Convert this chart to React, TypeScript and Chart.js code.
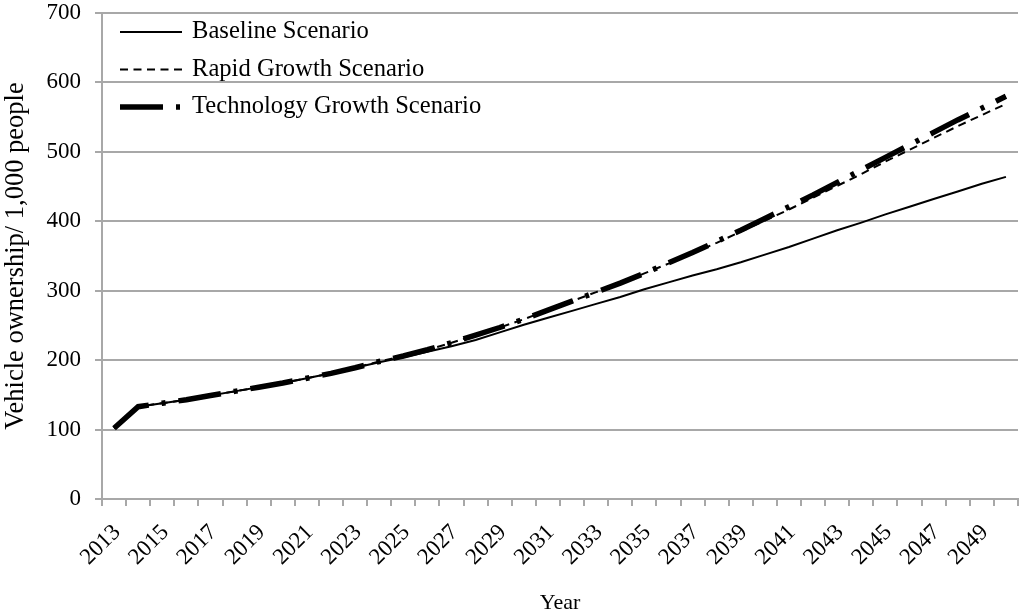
import React, { useEffect, useRef } from "react";
import { Chart, registerables } from "chart.js";

Chart.register(...registerables);

const years: string[] = [
  "2013", "2014", "2015", "2016", "2017", "2018", "2019", "2020", "2021", "2022",
  "2023", "2024", "2025", "2026", "2027", "2028", "2029", "2030", "2031", "2032",
  "2033", "2034", "2035", "2036", "2037", "2038", "2039", "2040", "2041", "2042",
  "2043", "2044", "2045", "2046", "2047", "2048", "2049", "2050",
];

const baseline: number[] = [
  102, 133, 138, 143, 149, 155, 161, 167, 174, 181,
  189, 197, 204, 212, 220, 229, 240, 251, 261, 271,
  281, 291, 302, 312, 322, 331, 341, 352, 363, 375,
  387, 398, 410, 421, 432, 443, 454, 464,
];

const rapidGrowth: number[] = [
  102, 133, 138, 143, 149, 155, 161, 167, 174, 181,
  189, 198, 206, 215, 225, 236, 247, 259, 272, 285,
  298, 311, 325, 339, 354, 369, 385, 401, 417, 434,
  451, 468, 486, 503, 520, 537, 553, 569,
];

const technologyGrowth: number[] = [
  102, 133, 138, 143, 149, 155, 161, 167, 174, 181,
  189, 198, 206, 215, 225, 236, 247, 259, 272, 285,
  298, 311, 325, 340, 355, 371, 387, 404, 421, 438,
  456, 474, 492, 510, 528, 546, 563, 580,
];

const seriesNames: string[] = [
  "Baseline Scenario",
  "Rapid Growth Scenario",
  "Technology Growth Scenario",
];

const yTitle = "Vehicle ownership/ 1,000 people";
const xTitle = "Year";

const FONT = "'Liberation Serif', 'Times New Roman', serif";
const GRID = "#a8a8a8";

const insideLegend = {
  id: "insideLegend",
  afterDraw(chart: any) {
    const ctx = chart.ctx;
    const area = chart.chartArea;
    const x0 = area.left + 18;
    const len = 62;
    const y0 = area.top + 19;
    const rowH = 37.5;
    chart.data.datasets.forEach((ds: any, i: number) => {
      const y = y0 + i * rowH;
      ctx.save();
      ctx.strokeStyle = ds.borderColor;
      ctx.lineWidth = ds.borderWidth;
      ctx.lineCap = "butt";
      ctx.setLineDash(ds.borderDash || []);
      ctx.beginPath();
      ctx.moveTo(x0, y);
      ctx.lineTo(x0 + len, y);
      ctx.stroke();
      ctx.setLineDash([]);
      ctx.fillStyle = "#000";
      ctx.font = `24.6px ${FONT}`;
      ctx.textBaseline = "middle";
      ctx.textAlign = "left";
      ctx.fillText(ds.label, x0 + len + 10, y);
      ctx.restore();
    });
  },
};

export default function App() {
  const canvasRef = useRef<HTMLCanvasElement | null>(null);

  useEffect(() => {
    if (!canvasRef.current) return;
    Chart.defaults.font.family = FONT;
    Chart.defaults.color = "#000";
    const chart = new Chart(canvasRef.current, {
      type: "line",
      data: {
        labels: years,
        datasets: [
          {
            label: seriesNames[0],
            data: baseline,
            borderColor: "#000",
            borderWidth: 2,
            pointRadius: 0,
            tension: 0,
            fill: false,
            order: 3,
          },
          {
            label: seriesNames[1],
            data: rapidGrowth,
            borderColor: "#000",
            borderWidth: 2,
            borderDash: [8, 5.5],
            pointRadius: 0,
            tension: 0,
            fill: false,
            order: 2,
          },
          {
            label: seriesNames[2],
            data: technologyGrowth,
            borderColor: "#000",
            borderWidth: 5.5,
            borderDash: [43, 13, 4, 13],
            pointRadius: 0,
            tension: 0,
            fill: false,
            order: 1,
          },
        ],
      },
      options: {
        animation: false,
        responsive: true,
        maintainAspectRatio: false,
        layout: { padding: { top: 0, right: 0, left: 0, bottom: 0 } },
        plugins: {
          legend: { display: false },
          tooltip: { enabled: false },
        },
        scales: {
          x: {
            type: "category",
            offset: true,
            grid: {
              display: true,
              drawOnChartArea: false,
              offset: true,
              tickLength: 7,
              color: GRID,
              lineWidth: 2,
            },
            border: { display: true, color: GRID, width: 2 },
            ticks: {
              autoSkip: false,
              minRotation: 45,
              maxRotation: 45,
              padding: 13,
              labelOffset: 3,
              font: { size: 23, family: FONT },
              color: "#000",
              callback: (_v: any, i: number) => (i % 2 === 0 ? years[i] : ""),
            },
            title: {
              display: true,
              text: xTitle,
              font: { size: 22, family: FONT },
              color: "#000",
              padding: { top: 0, bottom: 0 },
            },
            afterFit: (scale: any) => {
              scale.height = 117;
              scale.paddingLeft = 0;
              scale.paddingRight = 6;
            },
          },
          y: {
            min: 0,
            max: 700,
            ticks: {
              stepSize: 100,
              padding: 14,
              font: { size: 23, family: FONT },
              color: "#000",
            },
            grid: {
              color: GRID,
              lineWidth: 2,
              tickLength: 7,
            },
            border: { display: true, color: GRID, width: 2 },
            title: {
              display: true,
              text: yTitle,
              font: { size: 26.5, family: FONT },
              color: "#000",
              padding: { top: 0, bottom: 0 },
            },
            afterFit: (scale: any) => {
              scale.width = 102;
              scale.paddingTop = 13;
              scale.paddingBottom = 0;
            },
          },
        },
      },
      plugins: [insideLegend],
    });
    return () => chart.destroy();
  }, []);

  return (
    <div style={{ position: "absolute", left: 0, top: 0, width: 1024, height: 616, background: "#fff" }}>
      <canvas ref={canvasRef} />
    </div>
  );
}
